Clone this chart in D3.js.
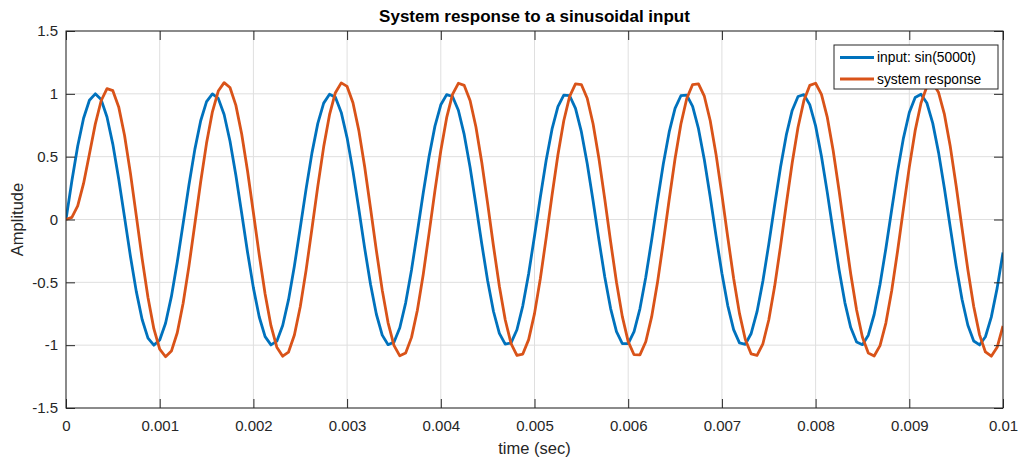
<!DOCTYPE html>
<html>
<head>
<meta charset="utf-8">
<script src="https://cdn.jsdelivr.net/npm/d3@7"></script>
<style>
    body { margin: 0; background: #fff; }
    svg text { font-family: "Liberation Sans", Arial, Helvetica, sans-serif; fill: #262626; }
</style>
</head>
<body>
<svg id="chart" width="1019" height="459"></svg>
<script>
// sampled at 16 kHz, t = 0 .. 0.01 s
const sampleStep = 0.0000625;

const inputSignal = [
    0, 0.307, 0.585, 0.806, 0.949, 1.000, 0.954, 0.816, 0.598, 0.323,
    0.017, -0.292, -0.572, -0.796, -0.944, -1.000, -0.959, -0.825, -0.612, -0.339,
    -0.033, 0.276, 0.558, 0.786, 0.938, 0.999, 0.964, 0.835, 0.625, 0.354,
    0.050, -0.260, -0.544, -0.776, -0.932, -0.998, -0.968, -0.844, -0.638, -0.370,
    -0.066, 0.244, 0.530, 0.765, 0.926, 0.997, 0.972, 0.852, 0.650, 0.385,
    0.083, -0.228, -0.516, -0.754, -0.920, -0.996, -0.976, -0.861, -0.663, -0.401,
    -0.099, 0.211, 0.502, 0.743, 0.913, 0.994, 0.979, 0.869, 0.675, 0.416,
    0.116, -0.195, -0.487, -0.732, -0.906, -0.992, -0.982, -0.877, -0.687, -0.431,
    -0.132, 0.179, 0.473, 0.721, 0.899, 0.990, 0.985, 0.885, 0.699, 0.446,
    0.149, -0.162, -0.458, -0.709, -0.892, -0.988, -0.988, -0.893, -0.711, -0.460,
    -0.165, 0.146, 0.443, 0.697, 0.884, 0.985, 0.990, 0.900, 0.723, 0.475,
    0.181, -0.130, -0.428, -0.685, -0.876, -0.982, -0.993, -0.907, -0.734, -0.490,
    -0.198, 0.113, 0.413, 0.673, 0.868, 0.979, 0.994, 0.914, 0.745, 0.504,
    0.214, -0.097, -0.398, -0.661, -0.860, -0.975, -0.996, -0.921, -0.756, -0.518,
    -0.230, 0.080, 0.383, 0.648, 0.851, 0.971, 0.997, 0.927, 0.767, 0.532,
    0.246, -0.064, -0.367, -0.635, -0.842, -0.967, -0.998, -0.933, -0.777, -0.546,
    -0.262
];

const systemResponse = [
    0, 0.017, 0.108, 0.287, 0.522, 0.759, 0.945, 1.041, 1.025, 0.896,
    0.669, 0.369, 0.031, -0.311, -0.621, -0.869, -1.031, -1.092, -1.047, -0.901,
    -0.667, -0.369, -0.036, 0.300, 0.608, 0.857, 1.022, 1.089, 1.050, 0.910,
    0.681, 0.386, 0.054, -0.283, -0.593, -0.845, -1.016, -1.088, -1.055, -0.919,
    -0.695, -0.403, -0.072, 0.266, 0.578, 0.834, 1.009, 1.087, 1.059, 0.929,
    0.709, 0.420, 0.090, -0.248, -0.562, -0.822, -1.002, -1.085, -1.063, -0.938,
    -0.722, -0.437, -0.108, 0.230, 0.547, 0.810, 0.995, 1.084, 1.067, 0.947,
    0.736, 0.453, 0.126, -0.213, -0.531, -0.798, -0.988, -1.082, -1.071, -0.956,
    -0.749, -0.469, -0.144, 0.195, 0.515, 0.786, 0.980, 1.079, 1.074, 0.965,
    0.762, 0.486, 0.162, -0.177, -0.499, -0.773, -0.972, -1.076, -1.077, -0.973,
    -0.775, -0.502, -0.180, 0.159, 0.483, 0.760, 0.963, 1.074, 1.080, 0.981,
    0.788, 0.518, 0.198, -0.141, -0.467, -0.747, -0.955, -1.070, -1.082, -0.989,
    -0.800, -0.534, -0.216, 0.123, 0.450, 0.734, 0.946, 1.067, 1.084, 0.996,
    0.812, 0.549, 0.233, -0.105, -0.434, -0.720, -0.937, -1.063, -1.086, -1.004,
    -0.824, -0.565, -0.251, 0.087, 0.417, 0.707, 0.927, 1.059, 1.087, 1.010,
    0.836, 0.580, 0.269, -0.069, -0.400, -0.693, -0.918, -1.054, -1.088, -1.017,
    -0.847
];

const xTicks = [0, 0.001, 0.002, 0.003, 0.004, 0.005, 0.006, 0.007, 0.008, 0.009, 0.01];
const xTickLabels = ["0", "0.001", "0.002", "0.003", "0.004", "0.005", "0.006", "0.007", "0.008", "0.009", "0.01"];
const yTicks = [-1.5, -1, -0.5, 0, 0.5, 1, 1.5];
const yTickLabels = ["-1.5", "-1", "-0.5", "0", "0.5", "1", "1.5"];

const seriesNames = ["input: sin(5000t)", "system response"];
const colors = ["#0072BD", "#D95319"];

const plotLeft = 66, plotRight = 1003, plotTop = 31, plotBottom = 408;
const tickLen = 9;

var svg = d3.select("#chart");

var x = d3.scaleLinear().domain([0, 0.01]).range([plotLeft, plotRight]);
var y = d3.scaleLinear().domain([-1.5, 1.5]).range([plotBottom, plotTop]);

// grid
var grid = svg.append("g").attr("class", "grid");
grid.selectAll("line.gx")
    .data(xTicks)
    .enter()
    .append("line")
    .attr("x1", x).attr("x2", x)
    .attr("y1", plotTop).attr("y2", plotBottom)
    .attr("stroke", "#dfdfdf").attr("stroke-width", 1);
grid.selectAll("line.gy")
    .data(yTicks)
    .enter()
    .append("line")
    .attr("y1", y).attr("y2", y)
    .attr("x1", plotLeft).attr("x2", plotRight)
    .attr("stroke", "#dfdfdf").attr("stroke-width", 1);

// data lines
svg.append("clipPath").attr("id", "plotclip")
    .append("rect")
    .attr("x", plotLeft).attr("y", plotTop)
    .attr("width", plotRight - plotLeft).attr("height", plotBottom - plotTop);

var line = d3.line()
    .x(function(d, i) { return x(i * sampleStep); })
    .y(function(d) { return y(d); });

var series = [inputSignal, systemResponse];
svg.append("g")
    .attr("clip-path", "url(#plotclip)")
    .selectAll("path")
    .data(series)
    .enter()
    .append("path")
    .attr("d", line)
    .attr("fill", "none")
    .attr("stroke", function(d, i) { return colors[i]; })
    .attr("stroke-width", 2.8)
    .attr("stroke-linejoin", "round");

// axes (ticks pointing inward on all four sides)
function styleAxis(g) {
    g.select(".domain").remove();
    g.selectAll(".tick line").attr("stroke", "#262626");
    g.selectAll(".tick text")
        .attr("fill", "#262626")
        .style("font-size", "15px")
        .style("font-family", "'Liberation Sans', Arial, sans-serif");
}

svg.append("g")
    .attr("transform", "translate(0," + plotBottom + ")")
    .call(d3.axisBottom(x).tickValues(xTicks)
        .tickFormat(function(d, i) { return xTickLabels[i]; })
        .tickSizeInner(-tickLen).tickSizeOuter(0).tickPadding(12))
    .call(styleAxis);

svg.append("g")
    .attr("transform", "translate(0," + plotTop + ")")
    .call(d3.axisTop(x).tickValues(xTicks).tickFormat("")
        .tickSizeInner(-tickLen).tickSizeOuter(0))
    .call(styleAxis);

svg.append("g")
    .attr("transform", "translate(" + plotLeft + ",0)")
    .call(d3.axisLeft(y).tickValues(yTicks)
        .tickFormat(function(d, i) { return yTickLabels[i]; })
        .tickSizeInner(-tickLen).tickSizeOuter(0).tickPadding(8))
    .call(styleAxis);

svg.append("g")
    .attr("transform", "translate(" + plotRight + ",0)")
    .call(d3.axisRight(y).tickValues(yTicks).tickFormat("")
        .tickSizeInner(-tickLen).tickSizeOuter(0))
    .call(styleAxis);

svg.append("rect")
    .attr("x", plotLeft).attr("y", plotTop)
    .attr("width", plotRight - plotLeft).attr("height", plotBottom - plotTop)
    .attr("fill", "none")
    .attr("stroke", "#262626").attr("stroke-width", 1);

// title and labels
svg.append("text")
    .attr("x", (plotLeft + plotRight) / 2).attr("y", 22)
    .attr("text-anchor", "middle")
    .style("font-size", "17px").style("font-weight", "bold").style("fill", "#000")
    .text("System response to a sinusoidal input");

svg.append("text")
    .attr("x", (plotLeft + plotRight) / 2).attr("y", 454)
    .attr("text-anchor", "middle")
    .style("font-size", "16.5px")
    .text("time (sec)");

svg.append("text")
    .attr("transform", "translate(23," + ((plotTop + plotBottom) / 2) + ") rotate(-90)")
    .attr("text-anchor", "middle")
    .style("font-size", "16.5px")
    .text("Amplitude");

// legend
var legend = svg.append("g").attr("transform", "translate(834,45)");
legend.append("rect")
    .attr("width", 164).attr("height", 44)
    .attr("fill", "#fff")
    .attr("stroke", "#262626").attr("stroke-width", 1);

var item = legend.selectAll("g.item")
    .data(seriesNames)
    .enter()
    .append("g")
    .attr("class", "item")
    .attr("transform", function(d, i) { return "translate(0," + (12.5 + i * 21.5) + ")"; });

item.append("line")
    .attr("x1", 6).attr("x2", 40)
    .attr("stroke", function(d, i) { return colors[i]; })
    .attr("stroke-width", 2.8);

item.append("text")
    .attr("x", 43).attr("dy", "0.36em")
    .style("font-size", "13.8px")
    .style("fill", "#000")
    .text(function(d) { return d; });
</script>
</body>
</html>
